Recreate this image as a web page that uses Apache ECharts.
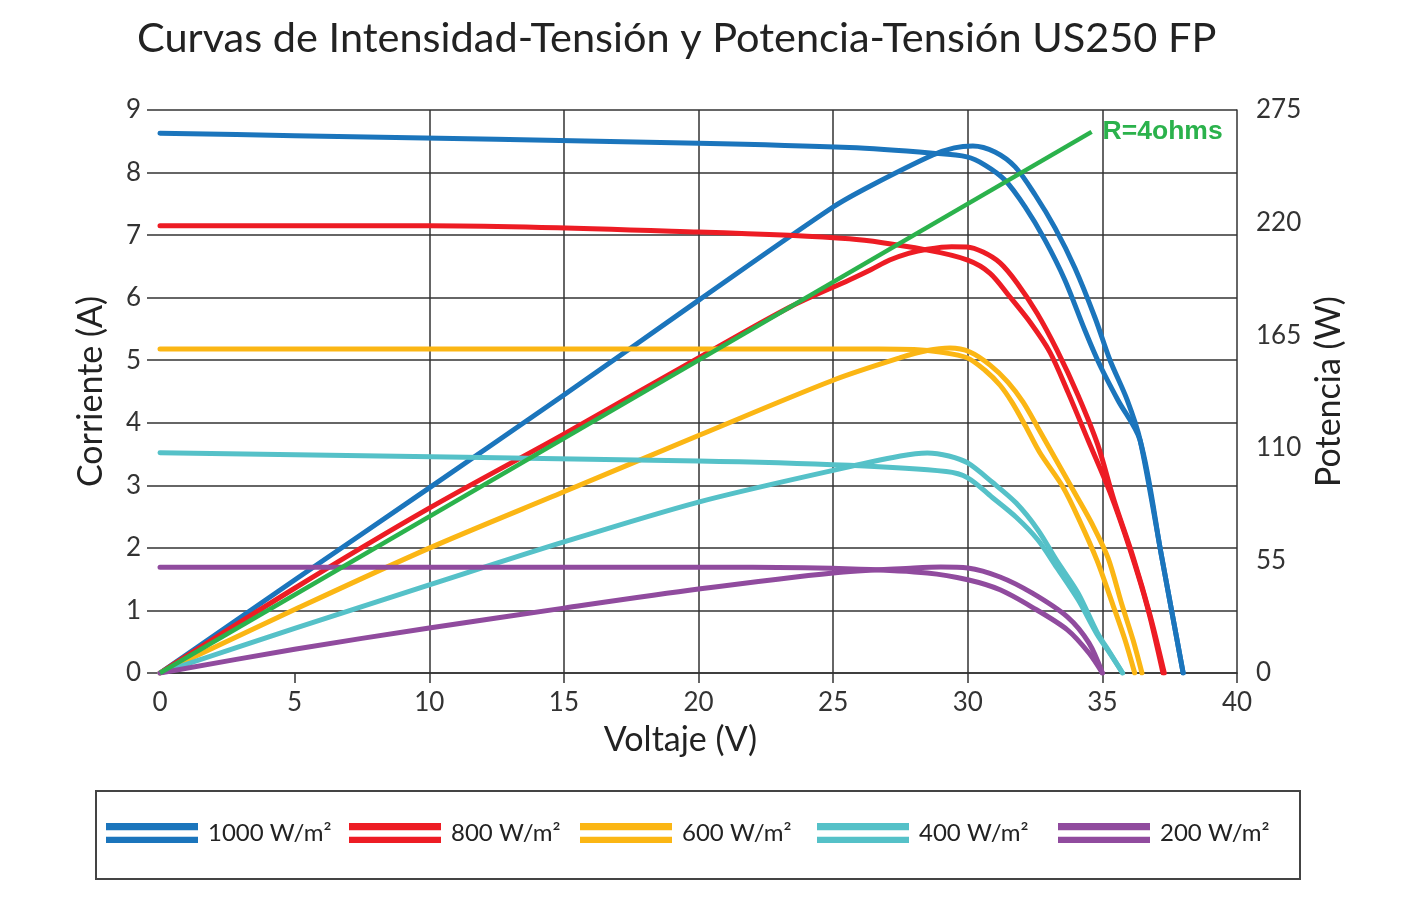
<!DOCTYPE html>
<html>
<head>
<meta charset="utf-8">
<script src="https://cdn.jsdelivr.net/npm/echarts@6/dist/echarts.min.js"></script>
<style>
html,body{margin:0;padding:0;background:#fff;}
#chart{width:1410px;height:901px;}
</style>
</head>
<body>
<div id="chart"></div>
<script>
// ---- data: [voltage V, value] ----
const seriesNames = ['1000 W/m²', '800 W/m²', '600 W/m²', '400 W/m²', '200 W/m²'];
const xTicks = [0, 5, 10, 15, 20, 25, 30, 35, 40];

// Current (A) vs Voltage
const iv1000 = [[0,8.63],[5,8.59],[20,8.47],[25.6,8.40],[28.7,8.31],[29.97,8.25],[30.64,8.12],[31.38,7.88],[32.13,7.45],[32.87,6.92],[33.61,6.28],[34.35,5.48],[34.91,4.92],[35.58,4.36],[36.4,3.72],[37.2,1.86],[38.0,0]];
const iv800  = [[0,7.15],[10,7.15],[20,7.05],[25.6,6.94],[28.5,6.76],[30.0,6.60],[30.83,6.39],[31.57,6.01],[32.31,5.61],[33.05,5.13],[33.72,4.49],[34.47,3.72],[35.28,2.89],[36.03,1.97],[36.7,1.01],[37.25,0]];
const iv600  = [[0,5.18],[26.7,5.18],[28.0,5.17],[28.97,5.13],[29.97,5.04],[30.64,4.84],[31.2,4.60],[31.64,4.33],[32.13,3.96],[32.68,3.52],[33.54,2.97],[34.17,2.42],[34.8,1.80],[35.39,1.09],[35.84,0.53],[36.2,0]];
const iv400  = [[0,3.52],[20,3.39],[25.6,3.32],[29.2,3.22],[30.0,3.12],[30.9,2.81],[31.8,2.49],[32.6,2.13],[33.3,1.69],[34.1,1.17],[34.8,0.62],[35.3,0.30],[35.75,0]];
const iv200  = [[0,1.69],[22,1.69],[26,1.66],[28.5,1.60],[30.0,1.49],[31.2,1.33],[32.4,1.05],[33.7,0.69],[34.5,0.32],[35.0,0]];

// Power (W) vs Voltage
const pv1000 = [[0,0],[5,45.4],[10,90.4],[15,135.8],[20,182],[25,227.6],[26.4,238],[28.7,253],[29.5,256.5],[30.19,257.4],[31.01,254.5],[31.76,247.2],[32.5,233.6],[33.24,217.4],[33.98,197.8],[34.73,173.4],[35.28,152.9],[35.92,133.4],[36.4,113.8],[37.2,57],[38.0,0]];
const pv800  = [[0,0],[5,41.4],[10,80.5],[15,116.7],[20,153.9],[23.4,178.8],[25.6,192],[26.4,197],[27.1,201.7],[27.8,205],[28.5,207],[29.4,208.2],[29.97,208.1],[30.57,205.6],[31.2,200.3],[31.83,190.5],[32.57,175.8],[33.31,157.8],[34.09,135.8],[34.83,111.4],[35.43,84.5],[36.14,56.7],[36.77,28.3],[37.3,0]];
const pv600  = [[0,0],[5,31],[10,61],[15,88.5],[20,116],[25,143],[27.5,154],[28.5,157.5],[29.34,158.7],[30.08,156.8],[30.83,150.4],[31.49,142.1],[32.05,132.4],[32.61,119.7],[33.24,105.0],[34.06,86],[34.65,72],[35.21,56.2],[35.73,33.2],[36.14,16.1],[36.47,0]];
const pv400  = [[0,0],[5,21.8],[10,43],[15,64],[20,83.5],[25,99],[27.5,106],[28.5,107.5],[29.3,106],[30.0,102.6],[30.9,93.3],[31.8,83],[32.6,70],[33.3,55],[34.1,39],[34.8,20],[35.3,9.5],[35.75,0]];
const pv200  = [[0,0],[5,11.6],[10,22],[15,31.7],[20,41],[25,48.9],[28,51.3],[29.0,51.8],[30.0,51.3],[31.2,46.9],[32.4,39],[33.7,27.4],[34.5,14.7],[35.0,0]];

// Load line R = 4 ohms (I = V/4)
const loadLine = [[0,0],[34.6,8.65]];
const loadLabel = 'R=4ohms';

const colors = ['#1B75BC', '#ED1C24', '#FBB614', '#55C1C8', '#904B9E'];
const ivData = [iv1000, iv800, iv600, iv400, iv200];
const pvData = [pv1000, pv800, pv600, pv400, pv200];

const FONT = 'Lato, "Open Sans", sans-serif';
const GRID = '#333333';

const series = [];
for (let k = 0; k < 5; k++) {
  const base = {
    type: 'line', name: seriesNames[k], showSymbol: false, symbol: 'none',
    smooth: 0.3, color: colors[k],
    lineStyle: { width: 5, color: colors[k], cap: 'round', join: 'round' },
    z: 3
  };
  series.push(Object.assign({}, base, { data: ivData[k], yAxisIndex: 0 }));
  series.push(Object.assign({}, base, { data: pvData[k], yAxisIndex: 1 }));
}
series.push({
  type: 'line', name: 'R', data: loadLine, yAxisIndex: 0, showSymbol: false, symbol: 'none',
  lineStyle: { width: 4.5, color: '#2BB24C' }, color: '#2BB24C', z: 4,
  endLabel: { show: true, formatter: loadLabel, color: '#2BB24C', fontWeight: 'bold',
    fontSize: 26.5, fontFamily: '"Liberation Sans", Arial, sans-serif', distance: 11 }
});

const legendLefts = [106, 349, 580, 817, 1058];
const legendIcon = 'path://M0,0H100V8H0Z M0,15H100V22H0Z';
const legends = seriesNames.map((n, i) => ({
  data: [n], left: legendLefts[i], top: 821, padding: 0,
  itemWidth: 92, itemHeight: 22, icon: legendIcon, selectedMode: false,
  textStyle: { fontSize: 24, color: '#222', fontFamily: FONT, padding: [0, 0, 0, 5] }
}));

const chart = echarts.init(document.getElementById('chart'), null, { renderer: 'canvas' });
chart.setOption({
  animation: false,
  backgroundColor: '#fff',
  title: {
    text: 'Curvas de Intensidad-Tensión y Potencia-Tensión US250 FP',
    left: 132, top: 13,
    textStyle: { fontSize: 41.5, fontWeight: 'normal', color: '#222', fontFamily: FONT }
  },
  grid: { left: 160, right: 173, top: 110, bottom: 228 },
  legend: legends,
  graphic: [{
    type: 'rect', shape: { x: 96, y: 791, width: 1204, height: 88 },
    style: { fill: 'none', stroke: '#444', lineWidth: 2 }, silent: true
  }],
  xAxis: {
    type: 'value', min: 0, max: 40, interval: 5,
    name: 'Voltaje (V)', nameLocation: 'middle', nameGap: 50,
    nameTextStyle: { fontSize: 34, color: '#222', fontFamily: FONT, padding: [0, 36, 0, 0] },
    axisLine: { show: true, lineStyle: { color: GRID, width: 1.5 } },
    axisTick: { show: true, length: 10, lineStyle: { color: GRID, width: 1.5 }, customValues: xTicks.slice(1) },
    axisLabel: { fontSize: 26, color: '#333', fontFamily: FONT, margin: 17 },
    splitLine: { show: true, showMinLine: false, showMaxLine: false, lineStyle: { color: GRID, width: 1.5 } }
  },
  yAxis: [{
    type: 'value', min: 0, max: 9, interval: 1, position: 'left',
    name: 'Corriente (A)', nameLocation: 'middle', nameGap: 52,
    nameTextStyle: { fontSize: 34, color: '#222', fontFamily: FONT },
    axisLine: { show: false },
    axisTick: { show: true, length: 13, lineStyle: { color: GRID, width: 1.5 } },
    axisLabel: { fontSize: 26, color: '#333', fontFamily: FONT, margin: 19 },
    splitLine: { show: true, lineStyle: { color: GRID, width: 1.5 } }
  }, {
    type: 'value', min: 0, max: 275, interval: 55, position: 'right',
    name: 'Potencia (W)', nameLocation: 'middle', nameGap: 68,
    nameTextStyle: { fontSize: 34, color: '#222', fontFamily: FONT },
    axisLine: { show: true, lineStyle: { color: GRID, width: 1.5 } },
    axisTick: { show: false },
    axisLabel: { fontSize: 26, color: '#333', fontFamily: FONT, margin: 19 },
    splitLine: { show: false }
  }],
  series: series
});
</script>
</body>
</html>
